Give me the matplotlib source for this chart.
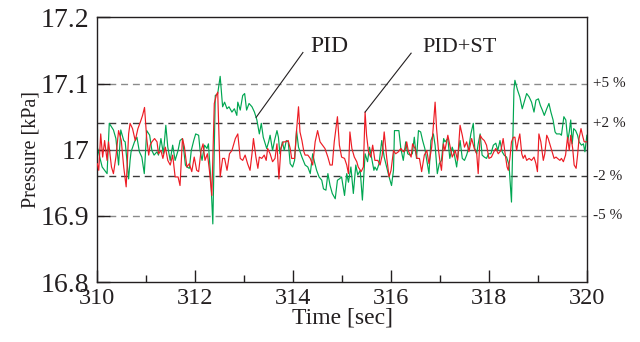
#!/usr/bin/env python3

import numpy as np
import matplotlib.pyplot as plt
from matplotlib.ticker import MultipleLocator

plt.rcParams["font.family"] = ["Liberation Serif", "DejaVu Serif"]

# PID response (green)
pid_t = [
    310.00, 310.10, 310.20, 310.245, 310.33, 310.38, 310.435, 310.48, 310.54, 310.57,
    310.64, 310.67, 310.69, 310.76, 310.81, 310.86, 310.91, 310.96, 311.01, 311.07,
    311.115, 311.16, 311.22, 311.25, 311.30, 311.35, 311.40, 311.44, 311.49, 311.54,
    311.59, 311.65, 311.69, 311.74, 311.80, 311.83, 311.88, 311.92, 311.97, 312.01,
    312.07, 312.10, 312.14, 312.19, 312.24, 312.27, 312.32, 312.36, 312.41, 312.46,
    312.51, 312.56, 312.60, 312.65, 312.69, 312.75, 312.80, 312.85, 312.87, 312.92,
    312.97, 313.01, 313.05, 313.10, 313.16, 313.21, 313.26, 313.31, 313.35, 313.39,
    313.46, 313.50, 313.53, 313.58, 313.62, 313.67, 313.70, 313.73, 313.78, 313.82,
    313.86, 313.90, 313.94, 313.99, 314.03, 314.07, 314.11, 314.18, 314.245, 314.30,
    314.35, 314.40, 314.435, 314.48, 314.53, 314.585, 314.62, 314.67, 314.71, 314.755,
    314.80, 314.86, 314.905, 314.945, 314.99, 315.05, 315.095, 315.13, 315.18, 315.23,
    315.28, 315.32, 315.37, 315.415, 315.47, 315.52, 315.56, 315.605, 315.65, 315.67,
    315.71, 315.755, 315.81, 315.86, 315.91, 315.96, 316.01, 316.05, 316.07, 316.115,
    316.16, 316.20, 316.25, 316.30, 316.34, 316.39, 316.435, 316.475, 316.52, 316.56,
    316.605, 316.645, 316.69, 316.73, 316.775, 316.815, 316.865, 316.90, 316.945, 316.985,
    317.03, 317.075, 317.10, 317.16, 317.20, 317.25, 317.29, 317.34, 317.37, 317.41,
    317.455, 317.50, 317.544, 317.59, 317.63, 317.68, 317.71, 317.75, 317.78, 317.82,
    317.86, 317.905, 317.95, 317.99, 318.04, 318.09, 318.14, 318.18, 318.225, 318.27,
    318.31, 318.36, 318.41, 318.46, 318.51, 318.53, 318.585, 318.63, 318.68, 318.72,
    318.77, 318.82, 318.87, 318.92, 318.96, 319.01, 319.05, 319.09, 319.13, 319.18,
    319.225, 319.265, 319.31, 319.35, 319.38, 319.45, 319.48, 319.53, 319.57, 319.61,
    319.64, 319.67, 319.70, 319.73, 319.77, 319.81, 319.84, 319.89, 319.93, 319.96,
    320.00,
]
pid_p = [
    17.004, 16.974, 16.964, 17.040, 17.030, 17.017, 16.977, 17.030, 17.014, 17.012,
    16.956, 16.984, 16.997, 17.012, 17.019, 16.997, 16.989, 16.964, 17.029, 17.022,
    16.999, 16.992, 16.997, 16.992, 17.017, 16.994, 17.037, 17.004, 16.984, 17.007,
    16.984, 16.999, 17.014, 17.017, 16.977, 16.974, 16.972, 16.999, 17.014, 17.024,
    17.022, 16.999, 16.984, 17.007, 17.002, 17.009, 16.954, 16.888, 17.082, 17.085,
    17.111, 17.065, 17.072, 17.062, 17.065, 17.057, 17.062, 17.052, 17.072, 17.060,
    17.082, 17.085, 17.060, 17.070, 17.065, 17.057, 17.045, 17.024, 17.040, 17.019,
    17.002, 17.012, 17.022, 16.999, 17.014, 17.029, 17.019, 16.994, 17.012, 16.999,
    17.014, 17.012, 16.979, 16.974, 16.984, 17.029, 17.004, 16.989, 16.977, 16.974,
    16.964, 16.994, 16.982, 16.969, 16.959, 16.954, 16.941, 16.939, 16.964, 16.946,
    16.934, 16.926, 16.954, 16.956, 16.959, 16.931, 16.964, 16.951, 16.974, 16.934,
    16.977, 16.962, 16.969, 16.924, 16.994, 16.982, 17.004, 16.987, 16.969, 16.974,
    16.969, 16.979, 17.014, 16.989, 16.974, 16.959, 16.946, 16.969, 17.029, 17.029,
    17.029, 17.002, 16.984, 17.012, 16.994, 16.992, 16.994, 17.019, 16.987, 17.029,
    17.027, 17.014, 17.002, 16.984, 16.964, 17.014, 17.024, 17.007, 16.964, 16.979,
    16.984, 17.017, 17.012, 17.017, 16.987, 17.004, 16.994, 16.974, 16.994, 17.014,
    16.987, 16.984, 16.992, 17.004, 17.024, 17.040, 17.002, 16.994, 17.009, 17.024,
    16.992, 16.989, 16.987, 16.994, 16.994, 17.007, 17.010, 16.999, 17.014, 16.997,
    16.992, 16.989, 16.977, 16.921, 17.090, 17.105, 17.090, 17.080, 17.062, 17.072,
    17.085, 17.080, 17.072, 17.057, 17.075, 17.077, 17.067, 17.060, 17.052, 17.062,
    17.070, 17.057, 17.045, 17.027, 17.024, 17.024, 17.022, 17.050, 17.045, 17.014,
    17.027, 17.045, 17.009, 17.032, 17.029, 17.022, 17.012, 17.007, 17.009, 16.997,
    17.022,
]

# PID+ST response (red)
st_t = [
    310.00, 310.03, 310.07, 310.11, 310.15, 310.20, 310.23, 310.29, 310.33, 310.38,
    310.435, 310.49, 310.54, 310.59, 310.64, 310.67, 310.72, 310.775, 310.83, 310.88,
    310.925, 310.965, 311.01, 311.05, 311.08, 311.115, 311.17, 311.22, 311.25, 311.30,
    311.34, 311.39, 311.44, 311.49, 311.54, 311.59, 311.65, 311.69, 311.74, 311.78,
    311.83, 311.88, 311.93, 311.98, 312.03, 312.07, 312.12, 312.16, 312.20, 312.25,
    312.29, 312.34, 312.39, 312.43, 312.46, 312.51, 312.56, 312.60, 312.65, 312.70,
    312.75, 312.80, 312.82, 312.87, 312.92, 312.97, 313.02, 313.07, 313.12, 313.16,
    313.19, 313.24, 313.28, 313.31, 313.36, 313.41, 313.45, 313.48, 313.53, 313.58,
    313.63, 313.67, 313.71, 313.75, 313.80, 313.85, 313.90, 313.94, 313.97, 314.03,
    314.07, 314.11, 314.14, 314.18, 314.22, 314.245, 314.30, 314.35, 314.40, 314.45,
    314.50, 314.55, 314.60, 314.65, 314.71, 314.755, 314.80, 314.84, 314.905, 314.945,
    314.99, 315.05, 315.095, 315.13, 315.16, 315.20, 315.25, 315.30, 315.33, 315.39,
    315.435, 315.47, 315.50, 315.54, 315.585, 315.625, 315.67, 315.73, 315.775, 315.82,
    315.86, 315.91, 315.96, 316.00, 316.05, 316.095, 316.15, 316.20, 316.25, 316.285,
    316.32, 316.35, 316.41, 316.44, 316.49, 316.53, 316.58, 316.625, 316.68, 316.73,
    316.775, 316.83, 316.86, 316.90, 316.93, 316.965, 317.00, 317.03, 317.07, 317.10,
    317.16, 317.20, 317.25, 317.31, 317.36, 317.41, 317.455, 317.50, 317.544, 317.59,
    317.646, 317.70, 317.75, 317.78, 317.82, 317.86, 317.905, 317.95, 318.00, 318.05,
    318.10, 318.14, 318.19, 318.245, 318.29, 318.33, 318.37, 318.395, 318.43, 318.46,
    318.50, 318.53, 318.565, 318.60, 318.63, 318.67, 318.70, 318.735, 318.77, 318.82,
    318.87, 318.92, 318.96, 318.99, 319.02, 319.06, 319.11, 319.14, 319.18, 319.21,
    319.25, 319.28, 319.33, 319.37, 319.40, 319.45, 319.48, 319.52, 319.565, 319.605,
    319.64, 319.67, 319.71, 319.74, 319.78, 319.81, 319.84, 319.88, 319.91, 319.945,
    320.00,
]
st_p = [
    16.979, 16.969, 17.024, 16.989, 17.014, 16.984, 17.012, 16.974, 16.964, 16.989,
    17.029, 17.014, 16.974, 16.944, 17.024, 17.040, 17.032, 17.014, 17.032, 17.042,
    17.052, 17.064, 17.017, 16.992, 17.007, 17.012, 17.017, 17.012, 16.994, 16.999,
    16.987, 17.004, 16.984, 16.977, 16.992, 16.959, 16.959, 16.946, 17.017, 17.004,
    16.974, 16.979, 16.967, 16.989, 16.969, 16.967, 16.999, 17.009, 16.984, 16.994,
    16.969, 16.931, 17.070, 17.082, 17.087, 16.959, 16.987, 16.987, 16.969, 16.994,
    16.999, 17.012, 17.017, 17.024, 16.987, 16.984, 16.992, 16.979, 16.969, 16.994,
    17.017, 16.989, 16.972, 16.989, 16.987, 16.992, 16.984, 17.002, 16.994, 16.982,
    16.987, 17.009, 16.956, 17.002, 17.012, 17.012, 17.014, 17.002, 16.987, 16.987,
    17.029, 17.065, 17.027, 17.014, 16.997, 16.992, 16.992, 16.987, 16.977, 17.012,
    17.029, 17.012, 17.007, 17.002, 16.989, 16.977, 16.977, 17.012, 17.050, 17.007,
    16.989, 16.987, 16.977, 16.964, 17.027, 17.002, 16.989, 16.982, 16.974, 16.967,
    16.974, 17.057, 17.022, 16.997, 16.989, 17.007, 16.984, 16.984, 16.977, 16.992,
    17.027, 16.989, 16.959, 16.969, 16.999, 16.994, 16.997, 17.002, 16.997, 16.999,
    17.012, 16.999, 16.989, 17.009, 17.002, 16.987, 16.987, 16.967, 16.992, 16.999,
    16.979, 17.004, 17.032, 17.072, 17.032, 17.002, 16.982, 16.969, 17.009, 16.999,
    17.022, 17.007, 16.989, 16.999, 16.984, 17.037, 17.022, 17.004, 17.012, 16.997,
    17.017, 17.002, 16.994, 16.964, 17.022, 17.017, 17.014, 17.007, 16.987, 16.989,
    16.997, 17.002, 16.994, 16.999, 17.017, 16.994, 16.974, 16.969, 16.989, 17.012,
    17.019, 17.019, 16.999, 17.014, 17.024, 16.994, 16.987, 16.992, 16.984, 16.987,
    16.984, 16.989, 16.979, 16.967, 17.024, 17.012, 16.984, 16.994, 17.022, 17.017,
    17.007, 16.999, 16.987, 16.989, 16.987, 16.984, 16.987, 16.982, 16.992, 17.019,
    16.999, 17.022, 17.002, 16.977, 16.972, 16.992, 17.017, 17.032, 17.022, 17.012,
    17.012,
]

setpoint = 17.0
band_levels = [17.1, 17.04, 16.96, 16.9]
band_labels = ["+5 %", "+2 %", "-2 %", "-5 %"]
band_colors = ["#8a8a8a", "#3a3a3a", "#3a3a3a", "#8a8a8a"]

yticks = [16.8, 16.9, 17.0, 17.1, 17.2]
ytick_labels = ["16.8", "16.9", "17", "17.1", "17.2"]

txt = "#231f20"
green = "#00a651"
red = "#ed1c24"

fig = plt.figure(figsize=(6.4, 3.42), dpi=100)
ax = fig.add_axes([0.152, 0.175, 0.765, 0.774])

ax.axhline(setpoint, color="#555555", lw=1.0, zorder=1)
for lev, col in zip(band_levels, band_colors):
    ax.axhline(lev, color=col, lw=1.0, dashes=(5, 3.5), zorder=1)

ax.plot(pid_t, pid_p, color=green, lw=0.85, zorder=2)
ax.plot(st_t, st_p, color=red, lw=0.85, zorder=3)

ax.set_xlim(310, 320)
ax.set_ylim(16.8, 17.2)
ax.xaxis.set_major_locator(MultipleLocator(2))
ax.xaxis.set_minor_locator(MultipleLocator(1))
ax.set_yticks(yticks)
ax.set_yticklabels(ytick_labels)

ax.tick_params(axis="both", which="major", direction="in", length=9, width=1.0,
               colors=txt)
ax.tick_params(axis="x", which="minor", direction="in", length=5, width=1.0, colors=txt)
ax.tick_params(axis="x", which="major", labelsize=17.5, pad=4)
ax.tick_params(axis="y", which="major", labelsize=20, pad=6)

for s in ax.spines.values():
    s.set_color(txt)
    s.set_linewidth(1.0)

ax.set_xlabel("Time [sec]", fontsize=17, color=txt, labelpad=-1)
ax.set_ylabel("Pressure [kPa]", fontsize=14.5, color=txt, labelpad=0)

for lev, lab in zip(band_levels, band_labels):
    ax.text(1.012, lev, lab, transform=ax.get_yaxis_transform(), fontsize=11,
            color=txt, va="center", ha="left")

# leader lines and labels
ax.plot([313.245, 314.20], [17.049, 17.147], color=txt, lw=0.8, zorder=4)
ax.text(314.35, 17.156, "PID", fontsize=17, color=txt, va="center", ha="left")
ax.plot([315.47, 316.41], [17.057, 17.146], color=txt, lw=0.8, zorder=4)
ax.text(316.63, 17.155, "PID+ST", fontsize=16, color=txt, va="center", ha="left")

fig.savefig("out.png", dpi=100)
